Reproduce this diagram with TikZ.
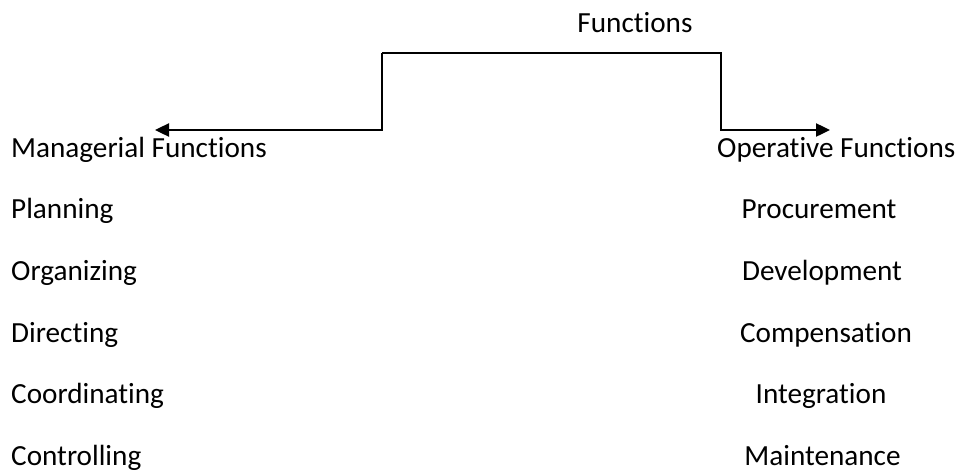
\documentclass[tikz,border=0pt]{standalone}
\usepackage{fontspec}
\setmainfont[Ligatures={NoCommon}]{Carlito}
\usetikzlibrary{calc,arrows.meta}

\tikzset{
	lbl/.style={inner sep=0pt, font=\fontsize{29.2}{33}\selectfont},
	tip/.style={-{Triangle[length=14pt,width=13pt]}}
}

\begin{document}
\begin{tikzpicture}[x=1pt,y=-1pt]
			\useasboundingbox (0,0) rectangle (960,474);
			\def\rowA{157};
			\def\rowd{61.7};
			
			\node[lbl,anchor=base] (fun) at (635,32) {Functions};
			
			\node[lbl,anchor=base west] (man) at (11,\rowA) {Managerial Functions};
			\node[lbl,anchor=base west] (pla) at (11,\rowA+\rowd) {Planning};
			\node[lbl,anchor=base west] (org) at (11,\rowA+2*\rowd) {Organizing};
			\node[lbl,anchor=base west] (dir) at (11,\rowA+3*\rowd) {Directing};
			\node[lbl,anchor=base west] (coo) at (11,\rowA+4*\rowd) {Coordinating};
			\node[lbl,anchor=base west] (con) at (11,\rowA+5*\rowd) {Controlling};
			
			\node[lbl,anchor=base west] (ope) at (717,\rowA) {Operative Functions};
			\node[lbl,anchor=base] (pro) at (819,\rowA+\rowd) {Procurement};
			\node[lbl,anchor=base] (dev) at (822,\rowA+2*\rowd) {Development};
			\node[lbl,anchor=base] (com) at (826,\rowA+3*\rowd) {Compensation};
			\node[lbl,anchor=base] (int) at (821,\rowA+4*\rowd) {Integration};
			\node[lbl,anchor=base] (mai) at (822.5,\rowA+5*\rowd) {Maintenance};
			
			\coordinate (mtip) at (155,130);
			\coordinate (otip) at (830,130);
			\coordinate (ltop) at (382,53);
			\coordinate (rtop) at (721,53);
			
			\draw[line width=2.4pt,tip] (ltop) -- (ltop |- mtip) -- (mtip);
			\draw[line width=2.4pt,tip] (ltop) -- (rtop) -- (rtop |- otip) -- (otip);
			\end{tikzpicture}
\end{document}
